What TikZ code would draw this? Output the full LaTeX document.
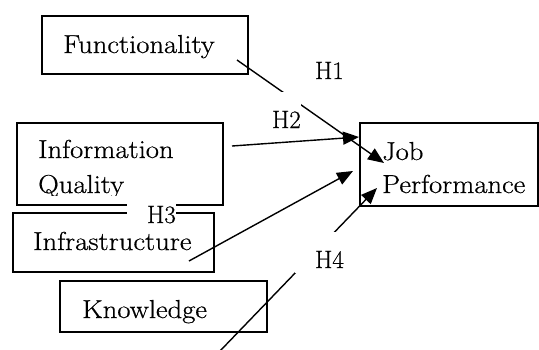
\documentclass[tikz,border=0pt]{standalone}
\usepackage{fontspec}
\setmainfont{Latin Modern Roman}[FakeBold=0.6, FakeStretch=1.1]
\newfontfamily\hfont{Latin Modern Roman}[FakeBold=0.6]
\usetikzlibrary{arrows.meta}
\begin{document}
\begin{tikzpicture}[x=1pt,y=-1pt,
  box/.style={draw=black, line width=1.4pt, inner sep=0pt, outer sep=0pt, anchor=north west, fill=none},
  txt/.style={font=\fontsize{26}{30}\selectfont, inner sep=0pt, anchor=base west},
  arr/.style={line width=1.4pt, -{Triangle[length=16pt,width=13pt]}},
  hlab/.style={fill=white, inner sep=0pt, outer sep=0pt, anchor=north west, text height=36pt, text depth=5pt, font=\hfont\fontsize{25}{30}\selectfont}]
\useasboundingbox (0,0) rectangle (539,349);
% boxes
\node[box, minimum width=206pt, minimum height=58pt] (func) at (42,16) {};
\node[box, minimum width=206pt, minimum height=82pt] (iq) at (17,123) {};
\node[box, minimum width=201pt, minimum height=59pt] (infra) at (13,213) {};
\node[box, minimum width=207pt, minimum height=51pt] (know) at (60,281) {};
\node[box, minimum width=178pt, minimum height=83pt] (job) at (360,123) {};
% texts
\node[txt] (funcT) at (63,53) {Functionality};
\node[txt] (iqT1) at (38,158) {Information};
\begin{scope}
  \clip (17,123) rectangle (223,195.5);
  \node[txt] (iqT2) at (38,193) {Quality};
\end{scope}
\node[txt] (infraT) at (33,250) {Infrastructure};
\node[txt] (knowT) at (82,318) {Knowledge};
\node[txt] (jobT1) at (382,160) {Job};
\node[txt] (jobT2) at (382,193) {Performance};
% connectors
\coordinate (kstart) at (220,351);
\draw[arr] ([shift={(-11,-14)}]func.south east) -- ([shift={(24,40)}]job.north west);
\draw[arr] ([shift={(9,23)}]iq.north east) -- ([shift={(-1,14)}]job.north west);
\draw[arr] ([shift={(-25,-11)}]infra.south east) -- ([shift={(-7,48)}]job.north west);
\draw[arr] (kstart) -- ([shift={(17,-18)}]job.south west);
% hypothesis labels (white text boxes)
\node[hlab] (h1) at (295,43) {\hspace{20pt}H1\hspace{31.75pt}};
\node[hlab] (h2) at (252,92) {\hspace{20pt}H2\hspace{20.75pt}};
\node[hlab] (h3) at (127,187) {\hspace{20pt}H3\hspace{31.75pt}};
\node[hlab] (h4) at (295,232) {\hspace{20pt}H4\hspace{31.75pt}};
\end{tikzpicture}
\end{document}
